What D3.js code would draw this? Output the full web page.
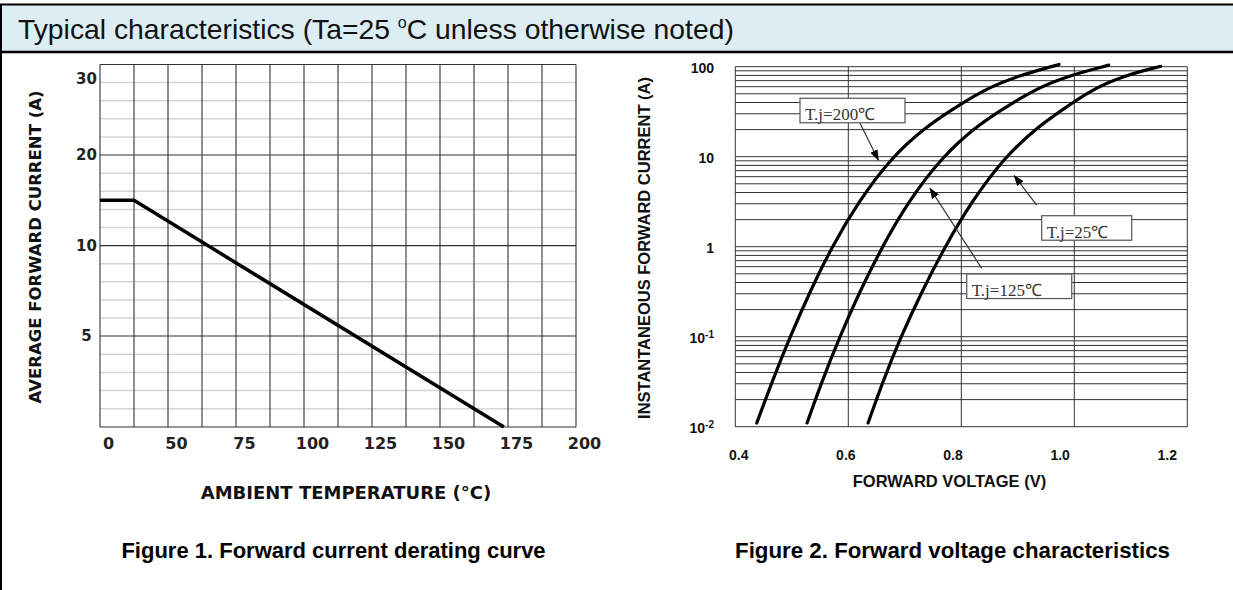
<!DOCTYPE html>
<html>
<head>
<meta charset="utf-8">
<script src="https://cdn.jsdelivr.net/npm/d3@7"></script>
<style>
  body { margin: 0; background: #fff; }
  svg { font-family: "Liberation Sans", Arial, sans-serif; }
</style>
</head>
<body>
<svg id="chart" width="1233" height="590"></svg>
<script>
// Figure 1 - derating curve
var tempTicks = [25, 50, 75, 100, 125, 150, 175, 200];
var tempLabels = ["0", "50", "75", "100", "125", "150", "175", "200"];
var currentTicks = [5, 10, 20, 30];
var derateTemp = [25, 37.5, 173.5];
var derateCurrent = [15, 15, 0];

// Figure 2 - forward voltage, one array pair per junction temp
var voltTicks = [0.4, 0.6, 0.8, 1.0, 1.2];
var ampDecades = [0.01, 0.1, 1, 10, 100];
var ampLabels = [["10", "-2"], ["10", "-1"], ["1"], ["10"], ["100"]];

var vf200 = [0.438, 0.465, 0.497, 0.532, 0.571, 0.618, 0.677, 0.738, 0.778, 0.838, 0.900, 0.973];
var if200 = [0.011, 0.0316, 0.1, 0.316, 1, 3.16, 10, 21.5, 31.6, 55, 79, 106];
var vf125 = [0.527, 0.553, 0.585, 0.620, 0.660, 0.706, 0.766, 0.826, 0.866, 0.927, 0.988, 1.061];
var if125 = [0.011, 0.0316, 0.1, 0.316, 1, 3.16, 10, 21.5, 31.6, 55, 79, 104];
var vf25 = [0.635, 0.661, 0.693, 0.730, 0.771, 0.818, 0.877, 0.936, 0.974, 1.029, 1.086, 1.153];
var if25 = [0.011, 0.0316, 0.1, 0.316, 1, 3.16, 10, 21.5, 31.6, 55, 79, 101];

var svg = d3.select("#chart");

// header bar
svg.append("rect").attr("x", 0).attr("y", 5).attr("width", 1233).attr("height", 47).attr("fill", "#dcedf3");
svg.append("line").attr("x1", 0).attr("x2", 1233).attr("y1", 4.5).attr("y2", 4.5).attr("stroke", "#000").attr("stroke-width", 2);
svg.append("line").attr("x1", 0).attr("x2", 1233).attr("y1", 52).attr("y2", 52).attr("stroke", "#000").attr("stroke-width", 2.5);
svg.append("line").attr("x1", 1).attr("x2", 1).attr("y1", 4).attr("y2", 590).attr("stroke", "#000").attr("stroke-width", 2);

var head = svg.append("text").attr("x", 18).attr("y", 39).style("font-size", "28.3px").attr("fill", "#111");
head.append("tspan").text("Typical characteristics (Ta=25 ");
head.append("tspan").style("font-size", "16px").attr("dy", -11).text("o");
head.append("tspan").attr("dy", 11).text("C unless otherwise noted)");

// ---------- figure 1 ----------
var g1 = svg.append("g").style("font-family", "'DejaVu Sans', sans-serif").style("font-weight", "bold");
var x1 = d3.scaleLinear().domain([25, 200]).range([100, 576]);
var y1 = d3.scaleLinear().domain([0, 5, 10, 20, 30]).range([427, 336, 245.7, 155, 64.5]);

// minor rows, 5 steps between each pair of major values
var minors = [];
var bounds = [0].concat(currentTicks);
for (var k = 0; k < bounds.length - 1; k++) {
  var step = (bounds[k + 1] - bounds[k]) / 5;
  for (var m = 1; m < 5; m++) minors.push(bounds[k] + m * step);
}
g1.selectAll(".minor").data(minors).enter().append("line")
  .attr("x1", x1(25)).attr("x2", x1(200))
  .attr("y1", function(d){ return y1(d); }).attr("y2", function(d){ return y1(d); })
  .attr("stroke", "#d6d6d6").attr("stroke-width", 1.5);

g1.selectAll(".vgrid").data(d3.range(25, 200.01, 12.5)).enter().append("line")
  .attr("x1", function(d){ return x1(d); }).attr("x2", function(d){ return x1(d); })
  .attr("y1", y1(30)).attr("y2", y1(0))
  .attr("stroke", "#444").attr("stroke-width", 1.2);

g1.selectAll(".hgrid").data([0].concat(currentTicks)).enter().append("line")
  .attr("x1", x1(25)).attr("x2", x1(200))
  .attr("y1", function(d){ return y1(d); }).attr("y2", function(d){ return y1(d); })
  .attr("stroke", "#333").attr("stroke-width", 1.2);

var derate = derateTemp.map(function(t, i){ return [t, derateCurrent[i]]; });
g1.append("path").datum(derate)
  .attr("d", d3.line().x(function(d){ return x1(d[0]); }).y(function(d){ return y1(d[1]); }))
  .attr("fill", "none").attr("stroke", "#000").attr("stroke-width", 3.5);

g1.selectAll(".ylab").data(currentTicks).enter().append("text")
  .attr("x", 86.5).attr("y", function(d){ return Math.max(y1(d), y1(30) + 14) + 5; })
  .attr("text-anchor", "middle").style("font-size", "15px")
  .attr("fill", "#222").text(function(d){ return d; });

g1.selectAll(".xlab").data(tempTicks).enter().append("text")
  .attr("x", function(d){ return x1(d) + 8.5; }).attr("y", 449)
  .attr("text-anchor", "middle").style("font-size", "16px")
  .attr("fill", "#222").text(function(d, i){ return tempLabels[i]; });

g1.append("text").attr("x", 346).attr("y", 499).attr("text-anchor", "middle")
  .style("font-size", "18px").attr("fill", "#111")
  .text("AMBIENT TEMPERATURE (\u00b0C)");

g1.append("text").attr("transform", "translate(40.5,247) rotate(-90)").attr("text-anchor", "middle")
  .style("font-size", "16.5px").attr("fill", "#111")
  .text("AVERAGE FORWARD CURRENT (A)");

// ---------- figure 2 ----------
var g2 = svg.append("g").style("font-weight", "bold");
var x2 = d3.scaleLinear().domain([0.4, 1.2]).range([735.3, 1187.3]);
var xl = d3.scaleLinear().domain([0.4, 1.2]).range([738.7, 1167.3]); // label spots drift in the scan
var y2 = d3.scaleLog().domain([0.01, 100]).range([426.7, 66.7]);

var rows = [];
ampDecades.slice(0, 4).forEach(function(d){ for (var k = 1; k < 10; k++) rows.push(d * k); });
rows.push(100);

g2.selectAll(".row").data(rows).enter().append("line")
  .attr("x1", x2(0.4)).attr("x2", x2(1.2))
  .attr("y1", function(d){ return y2(d); }).attr("y2", function(d){ return y2(d); })
  .attr("stroke", "#333").attr("stroke-width", 1);

g2.selectAll(".col").data(voltTicks).enter().append("line")
  .attr("x1", function(d){ return x2(d); }).attr("x2", function(d){ return x2(d); })
  .attr("y1", y2(100)).attr("y2", y2(0.01))
  .attr("stroke", "#333").attr("stroke-width", 1);

var curve = d3.line().curve(d3.curveBasis)
  .x(function(d){ return x2(d[0]); }).y(function(d){ return y2(d[1]); });
[[vf200, if200], [vf125, if125], [vf25, if25]].forEach(function(s){
  var pts = s[0].map(function(v, i){ return [v, s[1][i]]; });
  g2.append("path").datum(pts).attr("d", curve)
    .attr("fill", "none").attr("stroke", "#000").attr("stroke-width", 3.2).attr("stroke-linecap", "round");
});

// annotations
svg.append("defs").append("marker").attr("id", "arr")
  .attr("markerWidth", 11).attr("markerHeight", 8).attr("refX", 10).attr("refY", 4)
  .attr("orient", "auto").attr("markerUnits", "userSpaceOnUse")
  .append("path").attr("d", "M0,0 L11,4 L0,8 z").attr("fill", "#000");

var notes = [
  { label: "T.j=200\u2103", box: [0.5145, 44.6], w: 105, tail: [0.6207, 23.5], tip: [0.6531, 9.2] },
  { label: "T.j=25\u2103", box: [0.9423, 2.21], w: 90, tail: [0.9335, 2.9], tip: [0.8938, 6.15] },
  { label: "T.j=125\u2103", box: [0.8096, 0.497], w: 105, tail: [0.8361, 0.575], tip: [0.7446, 4.45] }
];
notes.forEach(function(n){
  g2.append("line").attr("x1", x2(n.tail[0])).attr("y1", y2(n.tail[1]))
    .attr("x2", x2(n.tip[0])).attr("y2", y2(n.tip[1]))
    .attr("stroke", "#333").attr("stroke-width", 1.2).attr("marker-end", "url(#arr)");
  var bx = x2(n.box[0]), by = y2(n.box[1]);
  g2.append("rect").attr("x", bx).attr("y", by).attr("width", n.w).attr("height", 24.5)
    .attr("fill", "#fff").attr("stroke", "#555").attr("stroke-width", 1.2);
  g2.append("text").attr("x", bx + 5).attr("y", by + 22)
    .style("font-family", "'Liberation Serif', serif").style("font-weight", "normal")
    .style("font-size", "17px").attr("fill", "#333").text(n.label);
});

g2.selectAll(".ylab").data(ampDecades).enter().append("text")
  .attr("x", 714).attr("y", function(d){ return y2(d) + 6; })
  .attr("text-anchor", "end").style("font-size", "14px").attr("fill", "#111")
  .each(function(d, i){
    var t = d3.select(this), lab = ampLabels[i];
    t.append("tspan").text(lab[0]);
    if (lab[1]) t.append("tspan").style("font-size", "10px").attr("dy", -5).text(lab[1]);
  });

g2.selectAll(".xlab").data(voltTicks).enter().append("text")
  .attr("x", function(d){ return xl(d); }).attr("y", 460).attr("text-anchor", "middle")
  .style("font-size", "14px").attr("fill", "#111")
  .text(function(d){ return d3.format(".1f")(d); });

g2.append("text").attr("x", 949.5).attr("y", 487).attr("text-anchor", "middle")
  .style("font-size", "16.5px").attr("fill", "#111").text("FORWARD VOLTAGE (V)");

g2.append("text").attr("transform", "translate(650,248) rotate(-90)").attr("text-anchor", "middle")
  .style("font-size", "16.5px").attr("fill", "#111")
  .text("INSTANTANEOUS FORWARD CURRENT (A)");

// captions
svg.append("text").attr("x", 333.5).attr("y", 558).attr("text-anchor", "middle")
  .style("font-weight", "bold").style("font-size", "22px").attr("fill", "#000")
  .text("Figure 1. Forward current derating curve");
svg.append("text").attr("x", 952.5).attr("y", 558).attr("text-anchor", "middle")
  .style("font-weight", "bold").style("font-size", "22.3px").attr("fill", "#000")
  .text("Figure 2. Forward voltage characteristics");
</script>
</body>
</html>
